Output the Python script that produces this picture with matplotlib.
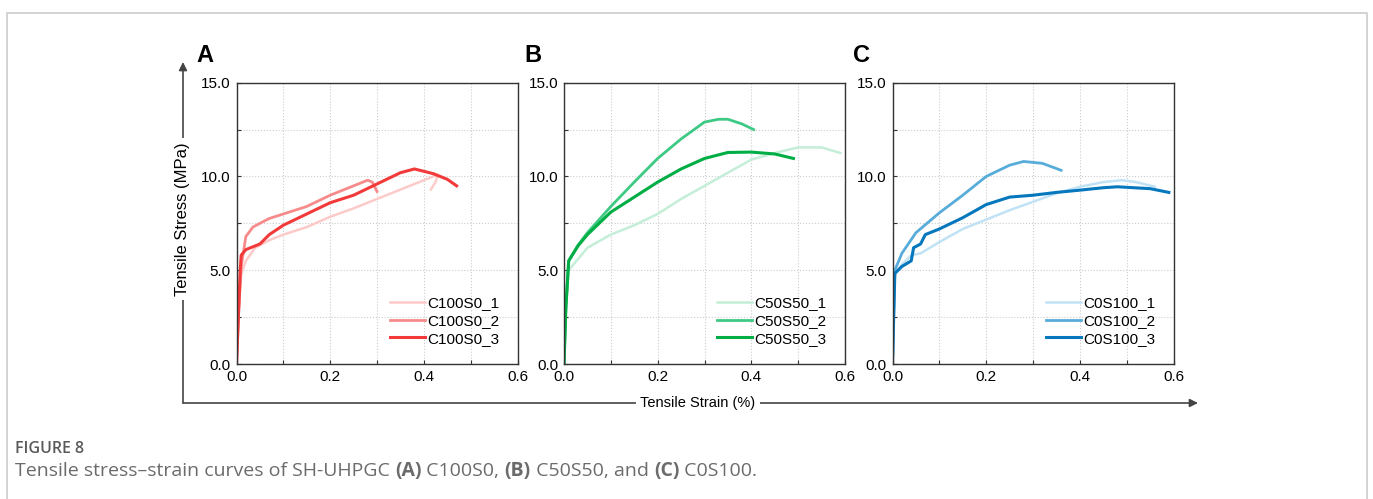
import numpy as np
import matplotlib
matplotlib.use('Agg')
import matplotlib.pyplot as plt
from matplotlib.lines import Line2D
from matplotlib.patches import FancyArrowPatch

plt.rcParams['font.family'] = ['Liberation Sans', 'DejaVu Sans']

# ── data (strain %, stress MPa) ──────────────────────────────────────────────
a1_x = [0.0, 0.005, 0.01, 0.02, 0.04, 0.07, 0.1, 0.15, 0.2, 0.25, 0.3, 0.35, 0.4, 0.43, 0.425, 0.415]
a1_y = [0.0, 3.0, 4.8, 5.5, 6.2, 6.6, 6.9, 7.3, 7.85, 8.3, 8.8, 9.3, 9.8, 10.1, 9.7, 9.3]
a2_x = [0.0, 0.005, 0.01, 0.02, 0.035, 0.05, 0.07, 0.1, 0.15, 0.2, 0.25, 0.28, 0.29, 0.3]
a2_y = [0.0, 3.0, 5.2, 6.8, 7.3, 7.5, 7.76, 8.0, 8.4, 9.0, 9.5, 9.8, 9.7, 9.2]
a3_x = [0.0, 0.004, 0.008, 0.01, 0.02, 0.05, 0.07, 0.1, 0.15, 0.2, 0.25, 0.3, 0.35, 0.38, 0.42, 0.45, 0.47]
a3_y = [0.0, 2.5, 5.0, 5.8, 6.1, 6.4, 6.9, 7.4, 8.0, 8.6, 9.0, 9.6, 10.2, 10.4, 10.15, 9.85, 9.5]

b1_x = [0.0, 0.004, 0.01, 0.03, 0.05, 0.1, 0.15, 0.2, 0.25, 0.3, 0.35, 0.4, 0.45, 0.5, 0.55, 0.59]
b1_y = [0.0, 3.0, 5.0, 5.6, 6.2, 6.9, 7.4, 8.0, 8.8, 9.5, 10.2, 10.9, 11.25, 11.55, 11.55, 11.25]
b2_x = [0.0, 0.004, 0.01, 0.03, 0.05, 0.1, 0.15, 0.2, 0.25, 0.3, 0.33, 0.35, 0.38, 0.405]
b2_y = [0.0, 3.0, 5.5, 6.34, 7.0, 8.4, 9.7, 10.96, 12.0, 12.9, 13.05, 13.05, 12.8, 12.5]
b3_x = [0.0, 0.004, 0.01, 0.03, 0.05, 0.1, 0.15, 0.2, 0.25, 0.3, 0.35, 0.4, 0.45, 0.49]
b3_y = [0.0, 3.0, 5.5, 6.3, 6.9, 8.1, 8.9, 9.7, 10.4, 10.96, 11.28, 11.3, 11.2, 10.96]

c1_x = [0.0, 0.003, 0.005, 0.02, 0.04, 0.06, 0.1, 0.15, 0.2, 0.25, 0.3, 0.35, 0.4, 0.45, 0.49, 0.52, 0.56]
c1_y = [0.0, 3.0, 4.8, 5.3, 5.8, 5.9, 6.5, 7.2, 7.7, 8.2, 8.65, 9.1, 9.45, 9.7, 9.8, 9.7, 9.45]
c2_x = [0.0, 0.003, 0.005, 0.02, 0.05, 0.1, 0.15, 0.2, 0.25, 0.28, 0.32, 0.36]
c2_y = [0.0, 3.0, 5.0, 5.9, 7.0, 8.06, 9.0, 10.0, 10.6, 10.8, 10.7, 10.33]
c3_x = [0.0, 0.003, 0.005, 0.02, 0.04, 0.045, 0.06, 0.07, 0.1, 0.15, 0.2, 0.25, 0.3, 0.35, 0.4, 0.45, 0.48, 0.55, 0.59]
c3_y = [0.0, 3.0, 4.83, 5.2, 5.5, 6.2, 6.4, 6.9, 7.2, 7.8, 8.5, 8.9, 9.0, 9.15, 9.27, 9.4, 9.45, 9.35, 9.15]

panels = [
    ('A', [(a1_x, a1_y), (a2_x, a2_y), (a3_x, a3_y)],
     ['C100S0_1', 'C100S0_2', 'C100S0_3'], ['#fdcaca', '#f78b8b', '#f23a3a']),
    ('B', [(b1_x, b1_y), (b2_x, b2_y), (b3_x, b3_y)],
     ['C50S50_1', 'C50S50_2', 'C50S50_3'], ['#c4eed7', '#3ec984', '#00ae45']),
    ('C', [(c1_x, c1_y), (c2_x, c2_y), (c3_x, c3_y)],
     ['C0S100_1', 'C0S100_2', 'C0S100_3'], ['#c0e2f4', '#58acda', '#0577bd']),
]

W, H = 1373, 499
fig = plt.figure(figsize=(W / 100, H / 100), dpi=100)


def fx(px):
    return px / W


def fy(py):
    return 1 - py / H


ax_left = [236.5, 564.0, 892.5]
for (letter, series, labels, colors), left in zip(panels, ax_left):
    ax = fig.add_axes([fx(left), fy(364), 281 / W, 281.3 / H])
    for (x, y), lab, col, lw in zip(series, labels, colors, (1.8, 2.0, 2.2)):
        ax.plot(x, y, color=col, lw=lw, label=lab)
    ax.set_xlim(0, 0.6)
    ax.set_ylim(0, 15)
    ax.set_xticks([0, 0.2, 0.4, 0.6])
    ax.set_xticks([0.1, 0.3, 0.5], minor=True)
    ax.set_yticks([0, 5, 10, 15])
    ax.set_yticks([2.5, 7.5, 12.5], minor=True)
    ax.set_xticklabels(['0.0', '0.2', '0.4', '0.6'])
    ax.set_yticklabels(['0.0', '5.0', '10.0', '15.0'])
    ax.tick_params(which='both', direction='in', length=3, width=0.8,
                   color='#333333', labelsize=11, pad=4)
    ax.grid(True, which='both', ls=':', lw=0.8, color='#cccccc')
    for s in ax.spines.values():
        s.set_color('#333333')
        s.set_linewidth(1.0)
    ax.legend(loc='lower right', frameon=False, fontsize=11,
              handlelength=2.3, handletextpad=0.15, labelspacing=0.25,
              borderaxespad=1.0, borderpad=0.2)
    fig.text(fx(left - 40), fy(56), letter, fontsize=17, fontweight='bold',
             ha='left', va='center')

# ── big L-shaped axis arrows ─────────────────────────────────────────────────
gray = '#444444'
fig.add_artist(FancyArrowPatch((fx(183), fy(403)), (fx(183), fy(62)),
                               transform=fig.transFigure, arrowstyle='-|>',
                               mutation_scale=12, color=gray, lw=1.2,
                               shrinkA=0, shrinkB=0))
fig.add_artist(FancyArrowPatch((fx(183), fy(403)), (fx(1198), fy(403)),
                               transform=fig.transFigure, arrowstyle='-|>',
                               mutation_scale=12, color=gray, lw=1.2,
                               shrinkA=0, shrinkB=0))
fig.text(fx(183), fy(219), 'Tensile Stress (MPa)', rotation=90, fontsize=12,
         ha='center', va='center',
         bbox=dict(facecolor='white', edgecolor='none', pad=3))
fig.text(fx(698), fy(403), 'Tensile Strain (%)', fontsize=10.5,
         ha='center', va='center',
         bbox=dict(facecolor='white', edgecolor='none', pad=3))

# ── frame around the figure ──────────────────────────────────────────────────
fig.add_artist(Line2D([fx(7), fx(7), fx(1367), fx(1367)],
                      [fy(510), fy(13), fy(13), fy(510)],
                      transform=fig.transFigure, color='#cccccc', lw=1.2))

# ── caption ──────────────────────────────────────────────────────────────────
cap_font = ['Open Sans', 'DejaVu Sans']
cap_col = '#6b6b6b'
fig.text(fx(15), fy(449), 'FIGURE 8', fontsize=11.5, fontweight='semibold',
         color='#5a5a5a', family=cap_font, ha='left', va='center')

pieces = [('Tensile stress\u2013strain curves of SH-UHPGC ', 'normal'),
          ('(A)', 'bold'), (' C100S0, ', 'normal'),
          ('(B)', 'bold'), (' C50S50, and ', 'normal'),
          ('(C)', 'bold'), (' C0S100.', 'normal')]
renderer = fig.canvas.get_renderer()
xpos = fx(15)
for txt, wt in pieces:
    t = fig.text(xpos, fy(471), txt, fontsize=14, fontweight=wt,
                 color=cap_col, family=cap_font, ha='left', va='center')
    bb = t.get_window_extent(renderer=renderer)
    xpos += bb.width / W

fig.savefig('out.png', dpi=100)
